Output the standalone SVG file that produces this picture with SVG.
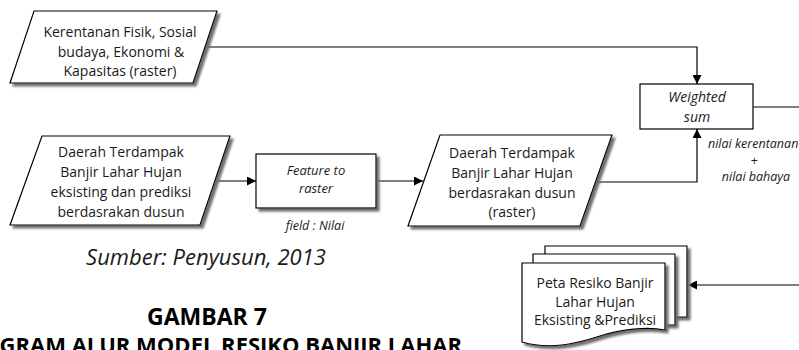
<svg xmlns="http://www.w3.org/2000/svg" width="799" height="350" viewBox="0 0 799 350">
<style>
.shape{fill:#fff;stroke:#000;stroke-width:1.2}
.sh{filter:url(#shadow)}
.t{font-family:"Open Sans","Liberation Sans",sans-serif;font-size:14px;fill:#1a1a1a;text-anchor:middle}
.i{font-style:italic}
.s{font-size:12.5px}
.conn{fill:none;stroke:#000;stroke-width:1.2}
</style>
<defs>
<filter id="shadow" x="-10%" y="-10%" width="130%" height="130%">
<feDropShadow dx="3" dy="3" stdDeviation="0.8" flood-color="#707070" flood-opacity="1"/>
</filter>
<marker id="arr" viewBox="0 0 10 10" refX="10" refY="5" markerWidth="9" markerHeight="9" markerUnits="userSpaceOnUse" orient="auto">
<path d="M0,0 L10,5 L0,10 z" fill="#000"/>
</marker>
</defs>

<g id="connectors">
<path class="conn" d="M205,47 H697 V84" marker-end="url(#arr)"/>
<path class="conn" d="M215,181 H256" marker-end="url(#arr)"/>
<path class="conn" d="M376,181 H423" marker-end="url(#arr)"/>
<path class="conn" d="M596,182 H697 V129" marker-end="url(#arr)"/>
<path class="conn" d="M753,107 H799"/>
<path class="conn" d="M799,285 H688" marker-end="url(#arr)"/>
</g>

<g id="kerentanan">
<polygon class="shape sh" points="34,11 217,11 193,83 10,83"/>
<text class="t" x="120" y="37">Kerentanan Fisik, Sosial</text>
<text class="t" x="121" y="57">budaya, Ekonomi &amp;</text>
<text class="t" x="120" y="76">Kapasitas (raster)</text>
</g>

<g id="daerah-vektor">
<polygon class="shape sh" points="42,136 230,136 200,225 10,225"/>
<text class="t" x="121" y="157">Daerah Terdampak</text>
<text class="t" x="121" y="177">Banjir Lahar Hujan</text>
<text class="t" x="121" y="197">eksisting dan prediksi</text>
<text class="t" x="121" y="217">berdasrakan dusun</text>
</g>

<g id="feature-to-raster">
<rect class="shape sh" x="256" y="154" width="120" height="54"/>
<text class="t i" x="316" y="175" style="font-size:13px">Feature to</text>
<text class="t i" x="316" y="193" style="font-size:13px">raster</text>
<text class="t i s" x="315" y="230">field : Nilai</text>
</g>

<g id="daerah-raster">
<polygon class="shape sh" points="440,135 612,135 580,226 408,226"/>
<text class="t" x="512" y="158">Daerah Terdampak</text>
<text class="t" x="512" y="178">Banjir Lahar Hujan</text>
<text class="t" x="512" y="198">berdasrakan dusun</text>
<text class="t" x="512" y="217">(raster)</text>
</g>

<g id="weighted-sum">
<rect class="shape" x="640" y="84" width="113" height="45"/>
<text class="t i" x="697" y="102">Weighted</text>
<text class="t i" x="697" y="122">sum</text>
<text class="t i s" x="708" y="148" style="text-anchor:start">nilai kerentanan</text>
<text class="t i s" x="754" y="165">+</text>
<text class="t i s" x="756" y="181">nilai bahaya</text>
</g>

<g id="peta-resiko">
<path class="shape sh" d="M545,246 H687 V317 H545 Z"/>
<path class="shape sh" d="M533,254 H675 V325 H533 Z"/>
<path class="shape sh" d="M522,263 H665 V330 C650,327 625,328 600,336 C575,344 550,350 522,342 Z"/>
<text class="t" x="595" y="288">Peta Resiko Banjir</text>
<text class="t" x="595" y="307">Lahar Hujan</text>
<text class="t" x="595" y="325">Eksisting &amp;Prediksi</text>
</g>

<g id="captions">
<text class="t i" x="206" y="265" style="font-size:22px">Sumber: Penyusun, 2013</text>
<text class="t" x="207" y="325" style="font-size:23px;font-weight:bold;fill:#000">GAMBAR 7</text>
<text class="t" x="462" y="353" style="font-size:22px;font-weight:bold;fill:#000;text-anchor:end">GRAM ALUR MODEL RESIKO BANJIR LAHAR</text>
</g>
</svg>
